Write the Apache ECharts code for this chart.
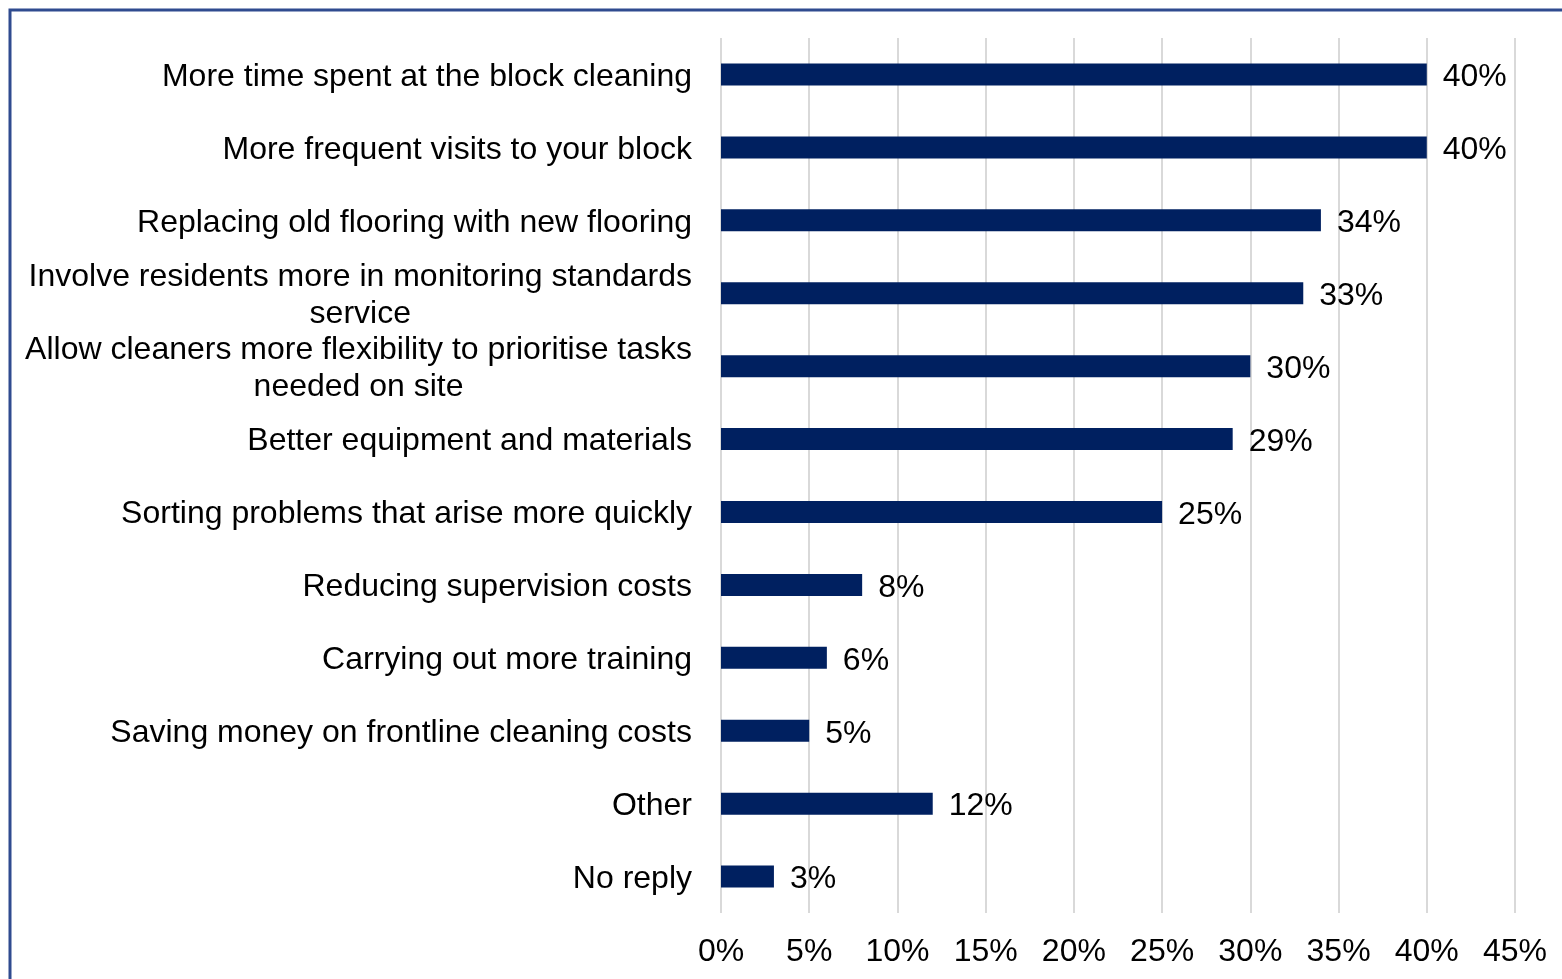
<!DOCTYPE html>
<html>
<head>
<meta charset="utf-8">
<style>
  html, body { margin: 0; padding: 0; background: #ffffff; }
  #chart { width: 1562px; height: 979px; }
</style>
<script src="https://cdn.jsdelivr.net/npm/echarts@6/dist/echarts.min.js"></script>
</head>
<body>
<div id="chart"></div>
<script>
// Survey answers, top to bottom
const categories = [
  'More time spent at the block cleaning',
  'More frequent visits to your block',
  'Replacing old flooring with new flooring',
  'Involve residents more in monitoring standards\nservice',
  'Allow cleaners more flexibility to prioritise tasks\nneeded on site',
  'Better equipment and materials',
  'Sorting problems that arise more quickly',
  'Reducing supervision costs',
  'Carrying out more training',
  'Saving money on frontline cleaning costs',
  'Other',
  'No reply'
];
// Share of respondents, in percent
const shares = [40, 40, 34, 33, 30, 29, 25, 8, 6, 5, 12, 3];
// Percentage axis
const axisMin = 0;
const axisMax = 45;
const axisStep = 5;

const FONT = "'Liberation Sans', Arial, sans-serif";

const chart = echarts.init(document.getElementById('chart'), null, { renderer: 'canvas' });

chart.setOption({
  backgroundColor: '#ffffff',
  animation: false,
  graphic: [{
    type: 'rect',
    left: 7.5, top: 7.5,
    shape: { width: 1700, height: 1100 },
    style: { fill: 'none', stroke: '#2f4b8f', lineWidth: 3 },
    z: 100,
    silent: true
  }],
  grid: { left: 721, right: 47, top: 38, bottom: 66, containLabel: false },
  xAxis: {
    type: 'value',
    min: axisMin,
    max: axisMax,
    interval: axisStep,
    axisLine: { show: false },
    axisTick: { show: false },
    splitLine: { show: true, lineStyle: { color: '#d9d9d9', width: 2 } },
    axisLabel: {
      formatter: v => v + '%',
      fontFamily: FONT,
      fontSize: 32,
      color: '#000000',
      margin: 23
    }
  },
  yAxis: {
    type: 'category',
    data: categories,
    inverse: true,
    axisLine: { show: false },
    axisTick: { show: false },
    axisLabel: {
      margin: 29,
      color: '#000000',
      fontFamily: FONT,
      fontSize: 32,
      lineHeight: 37,
      padding: [5, 0, 0, 0],
      formatter: v => v.split('\n').map(l => '{c|' + l + '}').join('\n'),
      rich: {
        c: {
          align: 'center',
          fontFamily: FONT,
          fontSize: 32,
          lineHeight: 37,
          color: '#000000'
        }
      }
    }
  },
  series: [{
    type: 'bar',
    data: shares,
    barWidth: 22,
    itemStyle: { color: '#002060' },
    label: {
      show: true,
      position: 'right',
      distance: 16,
      offset: [0, 3],
      formatter: p => p.value + '%',
      fontFamily: FONT,
      fontSize: 32,
      color: '#000000'
    }
  }]
});
</script>
</body>
</html>
